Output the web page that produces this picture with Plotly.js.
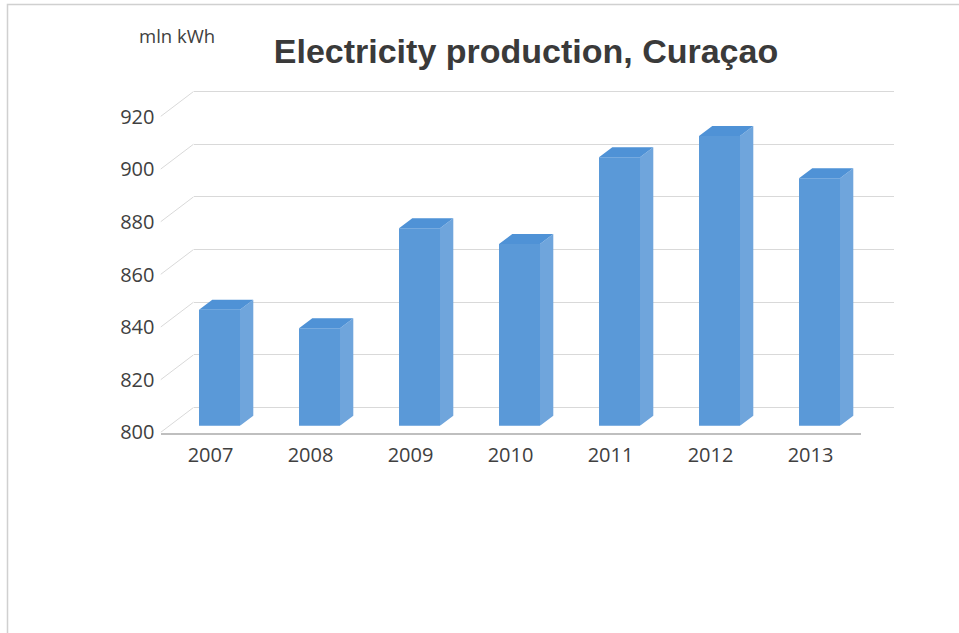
<!DOCTYPE html>
<html><head><meta charset="utf-8">
<script src="https://cdn.plot.ly/plotly-3.0.1.min.js"></script>
<style>html,body{margin:0;padding:0;background:#fff}#chart{width:959px;height:633px}</style>
</head><body><div id="chart"></div>
<script>
const years = [2007, 2008, 2009, 2010, 2011, 2012, 2013];
const production = [844, 837, 875, 869, 902, 910, 894];
const yTicks = [800, 820, 840, 860, 880, 900, 920];
const unitLabel = 'mln kWh';
const chartTitle = 'Electricity production, Curaçao';

const W = 959, H = 633;
const fx = p => p / W;
const fy = p => 1 - p / H;

// geometry (pixels)
const frontLeft = 160.5, frontRight = 860.5, frontBase = 432.5;
const pxPerUnit = 2.633;
const wallDX = 33, wallDY = 25;
const barDX = 9, barDY = 6.8;
const depthX = 0.133, depthV = 3.8;
const barW = 0.41;
const yMin = 800, yMax = 920, frontTop = 935, wallMin = 795;
const xMin = years[0] - 0.5, xMax = years[years.length - 1] + 0.5;

function yDomain(zeroPx, lo, hi) {
  // zeroPx: pixel position of yMin; domain spans lo..hi in data units
  const bottom = zeroPx - (lo - yMin) * pxPerUnit;
  const top = zeroPx - (hi - yMin) * pxPerUnit;
  return [fy(bottom), fy(top)];
}

const sideX = [], sideY = [], topX = [], topY = [];
years.forEach((yr, i) => {
  const v = production[i];
  const r = yr + barW / 2, l = yr - barW / 2;
  sideX.push(r, r, r + depthX, r + depthX, r, null);
  sideY.push(yMin, v, v + depthV, yMin + depthV, yMin, null);
  topX.push(l, r, r + depthX, l + depthX, l, null);
  topY.push(v, v, v + depthV, v + depthV, v, null);
});

const traces = [
  {x: [], y: [], type: 'scatter', xaxis: 'x', yaxis: 'y', hoverinfo: 'skip', showlegend: false},
  {x: years, y: production, type: 'bar', xaxis: 'x2', yaxis: 'y2', width: barW,
   marker: {color: '#5a99d8', line: {width: 0}}, hoverinfo: 'x+y', showlegend: false},
  {x: sideX, y: sideY, type: 'scatter', mode: 'lines', fill: 'toself', fillcolor: '#6fa5dc',
   line: {width: 0, color: '#6fa5dc'}, xaxis: 'x2', yaxis: 'y2', hoverinfo: 'skip', showlegend: false},
  {x: topX, y: topY, type: 'scatter', mode: 'lines', fill: 'toself', fillcolor: '#4f92d6',
   line: {width: 0, color: '#4f92d6'}, xaxis: 'x2', yaxis: 'y2', hoverinfo: 'skip', showlegend: false},
  {x: [], y: [], type: 'scatter', xaxis: 'x3', yaxis: 'y3', hoverinfo: 'skip', showlegend: false}
];

const tickFont = {family: 'Open Sans, sans-serif', size: 20, color: '#404040'};

const shapes = yTicks.map(t => ({
  type: 'line', xref: 'x3', yref: 'y3', xsizemode: 'pixel', ysizemode: 'pixel',
  xanchor: xMin, yanchor: t, x0: 0, x1: wallDX, y0: 0, y1: wallDY,
  line: {color: '#d9d9d9', width: 1}
}));
shapes.push({type: 'rect', xref: 'paper', yref: 'paper', x0: fx(7.5), x1: 1.05, y0: -0.05, y1: fy(4.5),
  line: {color: '#d0d0d0', width: 1.5}});

const layout = {
  width: W, height: H,
  margin: {l: 0, r: 0, t: 0, b: 0},
  paper_bgcolor: '#ffffff', plot_bgcolor: 'rgba(0,0,0,0)',
  showlegend: false,
  title: {text: chartTitle, x: fx(526), y: fy(51), xanchor: 'center', yanchor: 'middle',
    font: {family: 'Liberation Sans, Arial, sans-serif', size: 34, color: '#3a3a3a', weight: 'bold'}},
  xaxis: {domain: [fx(frontLeft + wallDX), fx(frontRight + wallDX)], range: [xMin, xMax], anchor: 'y',
    showgrid: false, zeroline: false, showline: false, showticklabels: false, ticks: ''},
  yaxis: {domain: yDomain(frontBase - wallDY, wallMin, frontTop), range: [wallMin, frontTop], anchor: 'x',
    tickmode: 'array', tickvals: yTicks, showgrid: true, gridcolor: '#d9d9d9', gridwidth: 1, zeroline: false,
    showline: false, showticklabels: false, ticks: ''},
  xaxis2: {domain: [fx(frontLeft + barDX), fx(frontRight + barDX)], range: [xMin, xMax], anchor: 'y2',
    showgrid: false, zeroline: false, showline: false, showticklabels: false, ticks: ''},
  yaxis2: {domain: yDomain(frontBase - barDY, yMin, yMax), range: [yMin, yMax], anchor: 'x2',
    showgrid: false, zeroline: false, showline: false, showticklabels: false, ticks: ''},
  xaxis3: {domain: [fx(frontLeft), fx(frontRight)], range: [xMin, xMax], anchor: 'y3',
    tickmode: 'array', tickvals: years, ticktext: years.map(String), tickfont: tickFont,
    showgrid: false, zeroline: false, showline: true, linecolor: '#bfbfbf', linewidth: 2, ticks: '',
    ticklabelstandoff: 3},
  yaxis3: {domain: yDomain(frontBase, yMin, frontTop), range: [yMin, frontTop], anchor: 'x3',
    tickmode: 'array', tickvals: yTicks, ticktext: yTicks.map(String), tickfont: tickFont,
    showgrid: false, zeroline: false, showline: false, ticks: '', ticklabelstandoff: 5},
  annotations: [{text: unitLabel, xref: 'paper', yref: 'paper', x: fx(177), y: fy(35.5),
    xanchor: 'center', yanchor: 'middle', showarrow: false,
    font: {family: 'Open Sans, sans-serif', size: 18.5, color: '#404040'}}],
  shapes: shapes
};

Plotly.newPlot('chart', traces, layout, {displayModeBar: false, responsive: false});
</script>
</body></html>
